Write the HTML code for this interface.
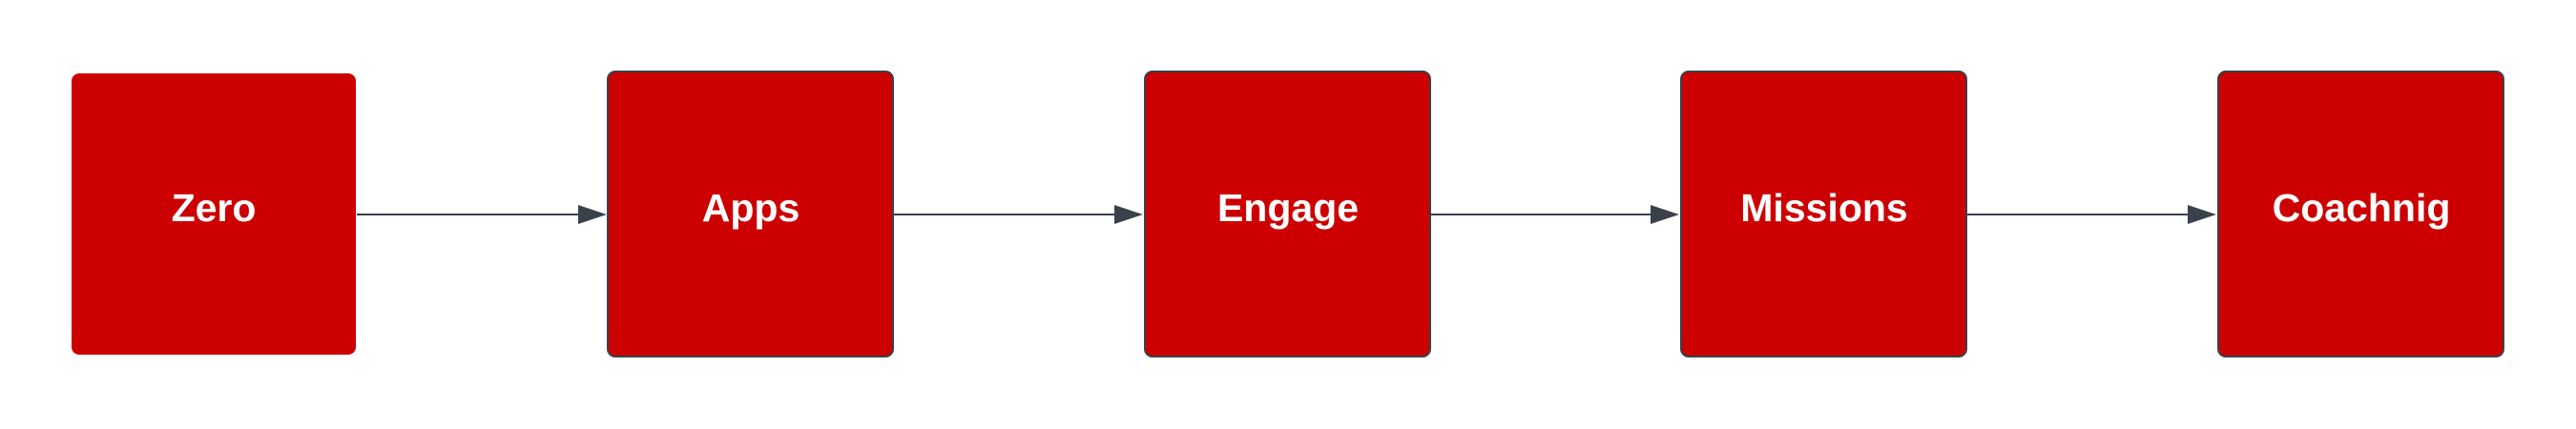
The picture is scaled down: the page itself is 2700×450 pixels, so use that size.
<!DOCTYPE html>
<html><head><style>
html,body{margin:0;padding:0;background:#fff;width:2700px;height:450px;overflow:hidden}
</style></head><body>
<svg width="2700" height="450" xmlns="http://www.w3.org/2000/svg" style="display:block">
<g fill="#cc0000" stroke="#3a414a" stroke-width="2">
<rect x="75" y="77" width="298" height="295" rx="8" stroke="none"/>
<rect x="637" y="75" width="299" height="299" rx="8"/>
<rect x="1200" y="75" width="299" height="299" rx="8"/>
<rect x="1762" y="75" width="299" height="299" rx="8"/>
<rect x="2325" y="75" width="299" height="299" rx="8"/>
</g>
<g stroke="#3a414a" stroke-width="2">
<line x1="374" y1="225" x2="610" y2="225"/>
<line x1="937" y1="225" x2="1172" y2="225"/>
<line x1="1500" y1="225" x2="1734" y2="225"/>
<line x1="2062" y1="225" x2="2297" y2="225"/>
</g>
<g fill="#3a414a">
<polygon points="606,215 636,225 606,235"/>
<polygon points="1168,215 1198,225 1168,235"/>
<polygon points="1730,215 1760,225 1730,235"/>
<polygon points="2293,215 2323,225 2293,235"/>
</g>
<g fill="#fff" font-family="Liberation Sans, sans-serif" font-weight="bold" font-size="41" text-anchor="middle">
<text x="224" y="232">Zero</text>
<text x="787" y="232">Apps</text>
<text x="1350" y="232">Engage</text>
<text x="1912" y="232">Missions</text>
<text x="2475" y="232">Coachnig</text>
</g>
</svg>
</body></html>
